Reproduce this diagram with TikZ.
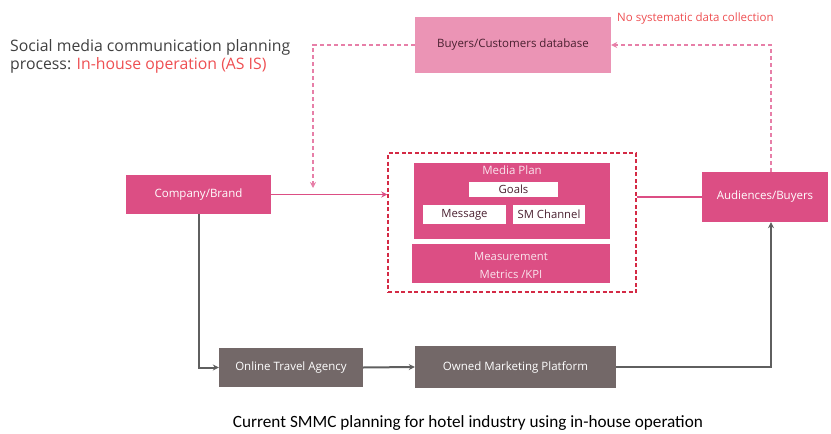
\documentclass[tikz,border=0pt]{standalone}
\usepackage{fontspec}
\setmainfont{Open Sans}
\newfontfamily\capfont{Carlito}
\usetikzlibrary{arrows.meta}
\definecolor{deeppink}{HTML}{DC4E84}
\definecolor{lightpink}{HTML}{EB94B5}
\definecolor{dashpink}{HTML}{E77FA8}
\definecolor{framered}{HTML}{D42A45}
\definecolor{boxgray}{HTML}{736868}
\definecolor{linegray}{HTML}{5F5F5F}
\definecolor{darktext}{HTML}{4A2030}
\definecolor{titlered}{HTML}{EE4F52}
\definecolor{titlegray}{HTML}{404040}
\tikzset{
  pinkbox/.style={fill=deeppink, draw=none, text=white, font=\fontsize{11.5}{13}\selectfont, inner sep=0pt},
  whitebox/.style={fill=white, draw=none, text=darktext, font=\fontsize{11.3}{13}\selectfont, inner sep=0pt},
  graybox/.style={fill=boxgray, draw=none, text=white, font=\fontsize{11.5}{13}\selectfont, inner sep=0pt},
  pinkdash/.style={draw=dashpink, line width=1.3pt, dash pattern=on 4pt off 3pt, -{Stealth[length=6pt,width=6pt]}},
  pinkline/.style={draw=deeppink, line width=1.3pt},
  grayline/.style={draw=linegray, line width=2pt},
  grayarrow/.style={grayline, -{Stealth[length=6pt,width=6pt]}},
}
\begin{document}
\begin{tikzpicture}[x=1pt,y=-1pt]
\useasboundingbox (0,0) rectangle (831,434);
% title
\node[anchor=north west, align=left, text=titlegray, font=\fontsize{15.8}{18}\selectfont, inner sep=0pt] (title) at (10,39)
  {Social media communication planning\\process: \textcolor{titlered}{In-house operation (AS IS)}};
\node[anchor=west, text=titlered, font=\fontsize{11.5}{13}\selectfont, inner sep=0pt] (nosys) at (617,19) {No systematic data collection};
% boxes
\node[pinkbox, fill=lightpink, text=darktext, minimum width=196pt, minimum height=56pt] (db) at (513,45) {Buyers/Customers database};
\node[pinkbox, minimum width=145pt, minimum height=39pt] (company) at (198.5,194.5) {Company/Brand};
\node[draw=framered, line width=1.5pt, dash pattern=on 4pt off 2.5pt, minimum width=248pt, minimum height=139pt, inner sep=0pt] (frame) at (512,222.5) {};
\node[pinkbox, minimum width=196pt, minimum height=76pt] (media) at (512,201) {};
\node[text=white!85!deeppink, font=\fontsize{11.5}{13}\selectfont, inner sep=0pt] (mediat) at (512,170) {Media Plan};
\node[whitebox, minimum width=89pt, minimum height=15pt] (goals) at (513.5,189.5) {Goals};
\node[whitebox, minimum width=83pt, minimum height=19pt] (message) at (464.5,214.5) {Message};
\node[whitebox, minimum width=72pt, minimum height=19pt] (smch) at (549,214.5) {SM Channel};
\node[pinkbox, minimum width=198pt, minimum height=39pt] (meas) at (511,263.5) {};
\node[text=white!85!deeppink, align=center, font=\fontsize{11.3}{18}\selectfont, inner sep=0pt] (meast) at (511,266) {Measurement\\Metrics /KPI};
\node[pinkbox, minimum width=126pt, minimum height=50pt] (aud) at (765,197) {Audiences/Buyers};
\node[graybox, minimum width=144pt, minimum height=39pt] (ota) at (291,367.5) {Online Travel Agency};
\node[graybox, minimum width=201pt, minimum height=42pt] (omp) at (515.5,367) {Owned Marketing Platform};
% caption
\node[text=black, font=\capfont\fontsize{17.2}{19}\selectfont, inner sep=0pt] (caption) at (468,423) {Current SMMC planning for hotel industry using in-house operation};
% connectors
\coordinate (c1) at (313,188);
\draw[pinkdash] (db.west) -| (c1);
\draw[pinkdash] ([xshift=6pt]aud.north) |- (db.east);
\draw[pinkline, -{Stealth[length=6pt,width=6pt]}] (company.east) -- (company.east -| frame.west);
\draw[pinkline] (aud.west -| frame.east) -- (aud.west);
\draw[grayarrow] (company.south) |- (ota.west);
\draw[grayarrow] (ota.east) -- (omp.west);
\draw[grayarrow] (omp.east) -| ([xshift=6pt]aud.south);
\end{tikzpicture}
\end{document}
